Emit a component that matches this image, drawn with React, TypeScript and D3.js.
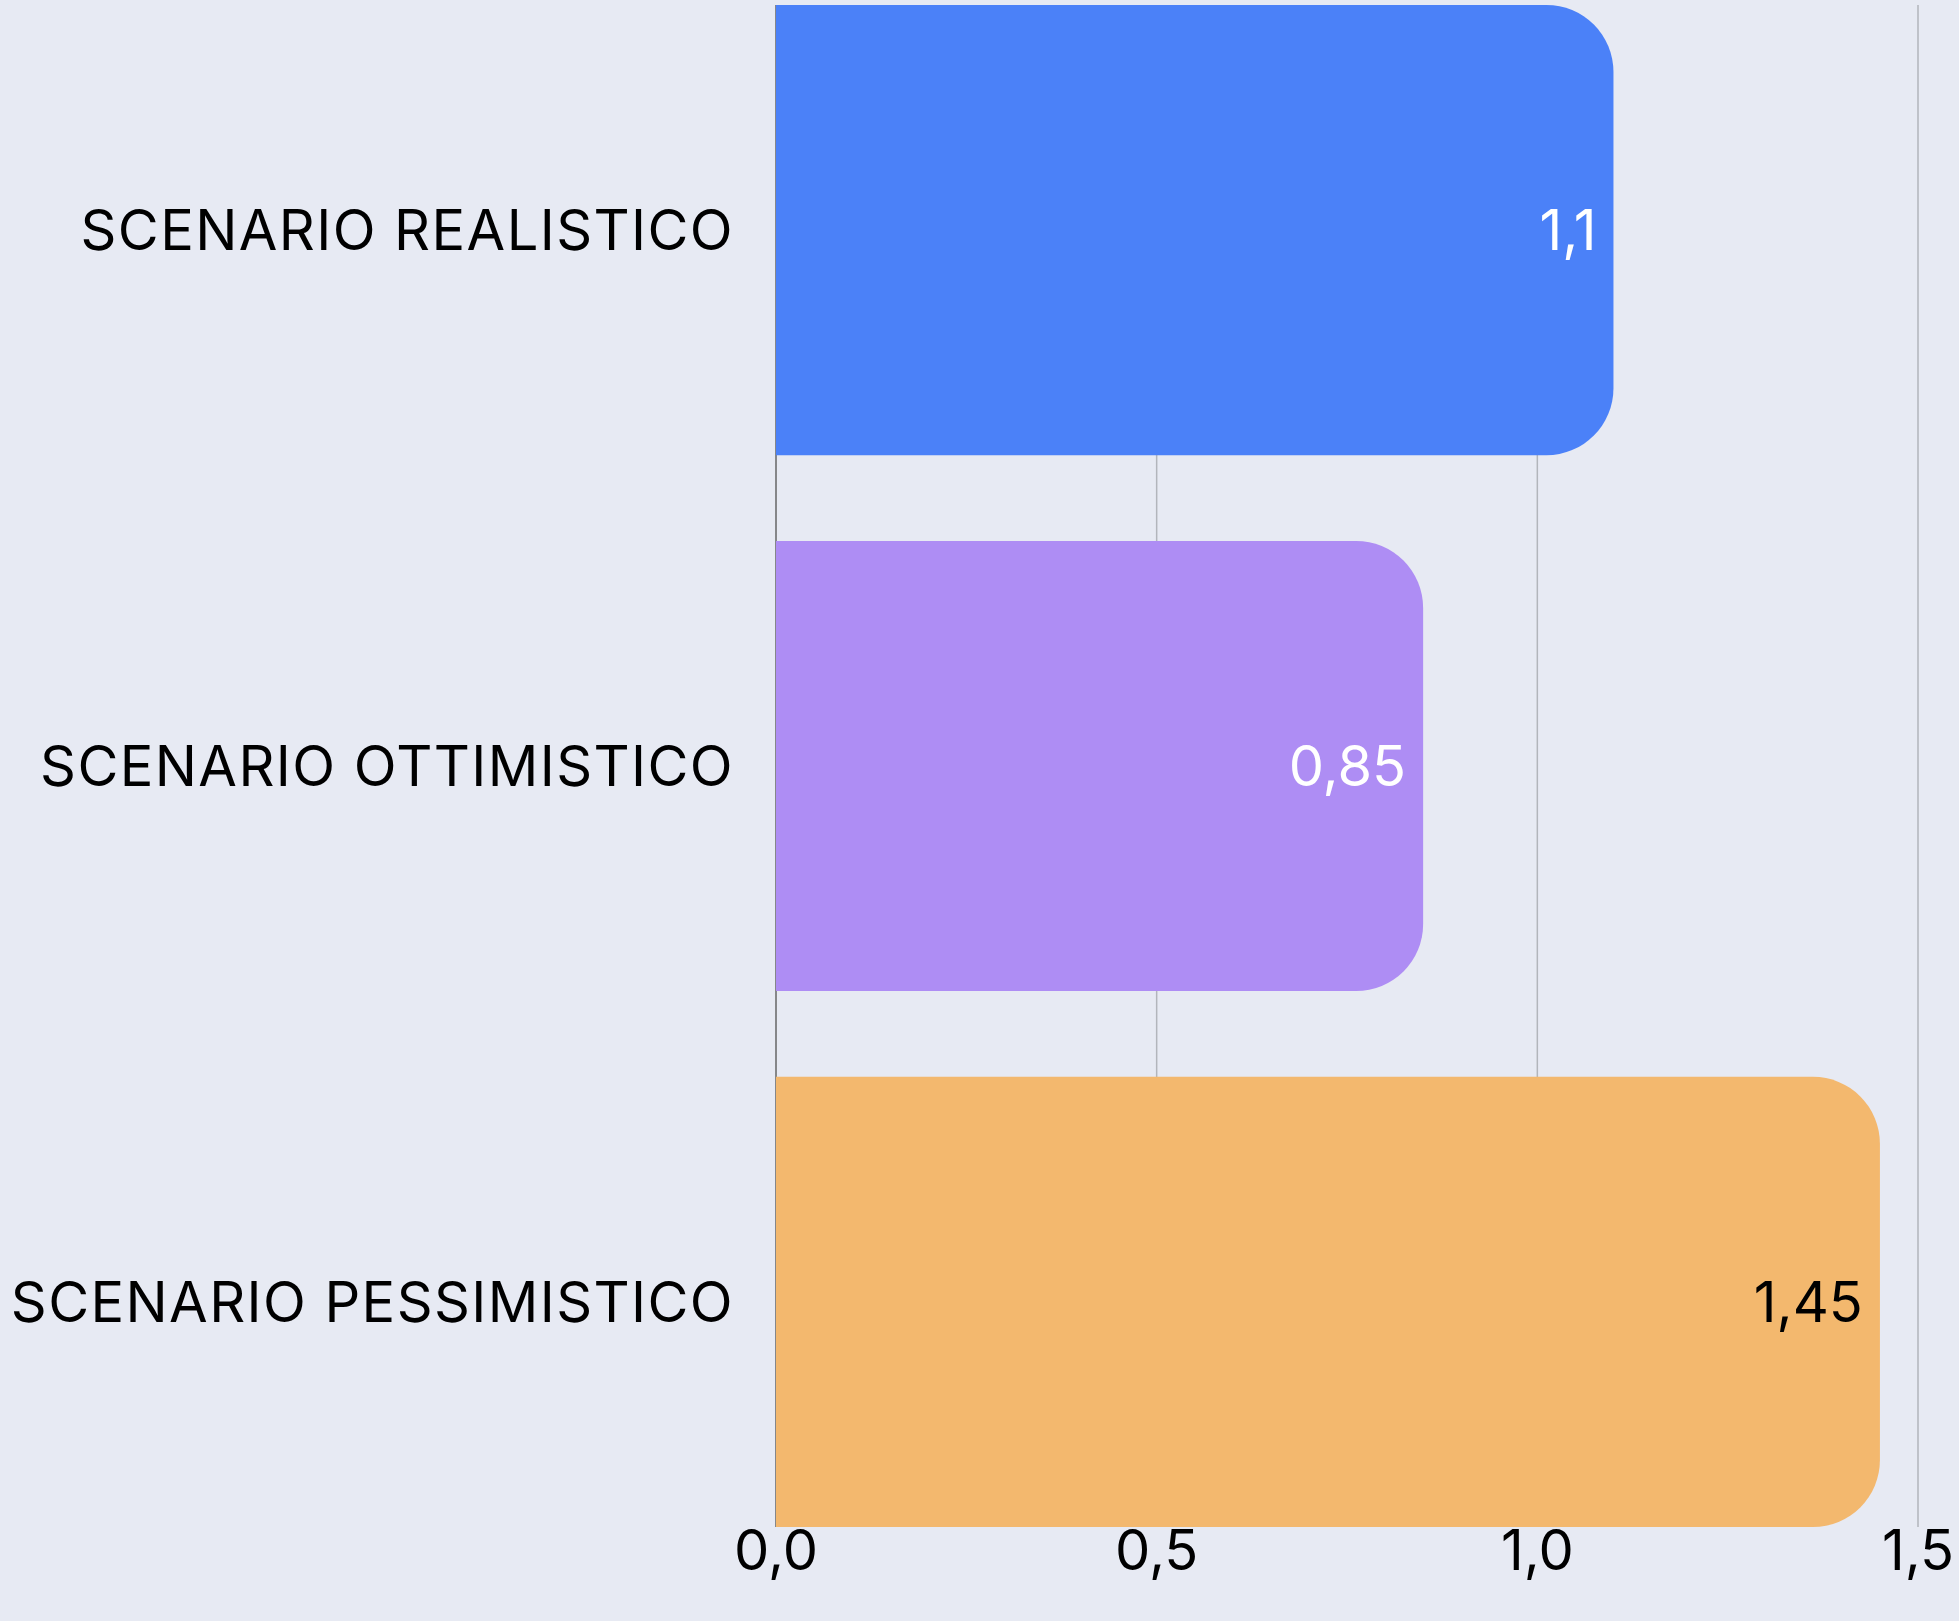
import React, {useEffect, useRef} from 'react';
import * as d3 from 'd3';

const categories = ['SCENARIO REALISTICO', 'SCENARIO OTTIMISTICO', 'SCENARIO PESSIMISTICO'];
const values = [1.1, 0.85, 1.45];
const barColors = ['#4b81f8', '#ae8df4', '#f3b86e'];
const labelColors = ['#ffffff', '#ffffff', '#000000'];
const tickValues = [0, 0.5, 1.0, 1.5];
const tickLabels = ['0,0', '0,5', '1,0', '1,5'];

const W = 1959, H = 1621;
const FONT = 'Inter, "Open Sans", sans-serif';

function App() {
    const svgRef = useRef<SVGSVGElement>(null);

    useEffect(() => {
        const svg = d3.select(svgRef.current);
        svg.selectAll('*').remove();

        const x = d3.scaleLinear().domain([0, 1.5]).range([776, 1918]);
        const y = d3.scaleBand<number>()
            .domain(categories.map((c, i) => i))
            .range([5, 1527])
            .paddingInner(0.16)
            .paddingOuter(0);

        svg.append('rect').attr('width', W).attr('height', H).attr('fill', '#e7eaf3');

        // grid lines, zero line a bit darker
        svg.selectAll('.grid')
            .data(tickValues)
            .join('line')
            .attr('x1', d => x(d)).attr('x2', d => x(d))
            .attr('y1', 5).attr('y2', 1527)
            .attr('stroke', d => d === 0 ? '#666' : '#b2b5bb')
            .attr('stroke-width', 1.5);

        const r = 67;
        const barPath = (v: number, i: number) => {
            const x0 = x(0), x1 = x(v);
            const y0 = y(i)!, y1 = y0 + y.bandwidth();
            const p = d3.path();
            p.moveTo(x0, y0);
            p.lineTo(x1 - r, y0);
            p.arcTo(x1, y0, x1, y0 + r, r);
            p.lineTo(x1, y1 - r);
            p.arcTo(x1, y1, x1 - r, y1, r);
            p.lineTo(x0, y1);
            p.closePath();
            return p.toString();
        };

        svg.selectAll('.bar')
            .data(values)
            .join('path')
            .attr('d', (v, i) => barPath(v, i))
            .attr('fill', (v, i) => barColors[i]);

        svg.selectAll('.val')
            .data(values)
            .join('text')
            .attr('x', v => x(v) - 17)
            .attr('y', (v, i) => y(i)! + y.bandwidth() / 2)
            .attr('dy', '0.35em')
            .attr('text-anchor', 'end')
            .attr('font-family', FONT)
            .attr('font-size', 56)
            .attr('fill', (v, i) => labelColors[i])
            .text(v => String(v).replace('.', ','));

        svg.selectAll('.cat')
            .data(categories)
            .join('text')
            .attr('x', 734)
            .attr('y', (c, i) => y(i)! + y.bandwidth() / 2)
            .attr('dy', '0.35em')
            .attr('text-anchor', 'end')
            .attr('font-family', FONT)
            .attr('font-size', 56)
            .attr('letter-spacing', 1.4)
            .attr('fill', '#000')
            .text(c => c);

        svg.selectAll('.tick')
            .data(tickValues)
            .join('text')
            .attr('x', d => x(d))
            .attr('y', 1550)
            .attr('dy', '0.35em')
            .attr('text-anchor', 'middle')
            .attr('font-family', FONT)
            .attr('font-size', 56)
            .attr('fill', '#000')
            .text((d, i) => tickLabels[i]);
    }, []);

    return (
        <svg ref={svgRef} width={W} height={H} style={{position: 'absolute', left: 0, top: 0}} />
    );
}

export default App;
